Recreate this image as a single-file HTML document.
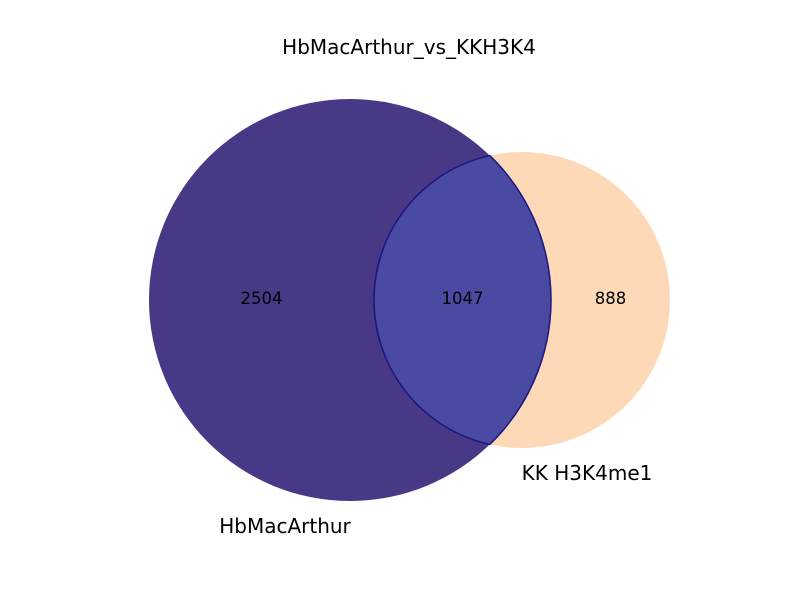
<!DOCTYPE html>
<html><head><meta charset="utf-8">
<style>
html,body{margin:0;padding:0;background:#fff;}
svg{display:block;font-family:"DejaVu Sans","Liberation Sans",sans-serif;}
</style></head>
<body>
<svg id="chart" width="800" height="600" viewBox="0 0 800 600">
<rect width="800" height="600" fill="#fff"/>
<text x="409" y="54" text-anchor="middle" font-size="20">HbMacArthur_vs_KKH3K4</text>
<g id="g"></g>
</svg>
<script>
const setNames = ["HbMacArthur", "KK H3K4me1"];
const regionLabels = ["only-a", "overlap", "only-b"];
const regionCounts = [2504, 1047, 888];
// geometry (layout, not data)
const A = {cx:350, cy:300, r:201};
const B = {cx:522, cy:300, r:148};
const ns = "http://www.w3.org/2000/svg";
const g = document.getElementById('g');
function mk(tag, attrs){const e=document.createElementNS(ns,tag);for(const k in attrs)e.setAttribute(k,attrs[k]);g.appendChild(e);return e;}
const cA = mk('circle',{cx:A.cx,cy:A.cy,r:A.r,fill:'#483885'});


const cB = mk('circle',{cx:B.cx,cy:B.cy,r:B.r,fill:'#fed9b7'});


const d = B.cx - A.cx;
const xi = (d*d - B.r*B.r + A.r*A.r)/(2*d);
const yi = Math.sqrt(A.r*A.r - xi*xi);
const px = A.cx + xi, y1 = A.cy - yi, y2 = A.cy + yi;
const lens = mk('path',{d:`M${px},${y1} A${B.r},${B.r} 0 0 0 ${px},${y2} A${A.r},${A.r} 0 0 0 ${px},${y1} Z`,fill:'#4a4aa3',stroke:'#1a1680','stroke-width':1.5});


const lx = [(A.cx - A.r + (B.cx - B.r))/2, ((B.cx-B.r)+(A.cx+A.r))/2, ((A.cx+A.r)+(B.cx+B.r))/2];
regionCounts.forEach((v,i)=>{
  const t = mk('text',{x:lx[i],y:304,'text-anchor':'middle','font-size':16.5});
  t.textContent = v;
  
  
});
const n1 = mk('text',{x:285,y:533,'text-anchor':'middle','font-size':20});
n1.textContent = setNames[0];


const n2 = mk('text',{x:587,y:480,'text-anchor':'middle','font-size':20});
n2.textContent = setNames[1];


</script>
</body></html>
